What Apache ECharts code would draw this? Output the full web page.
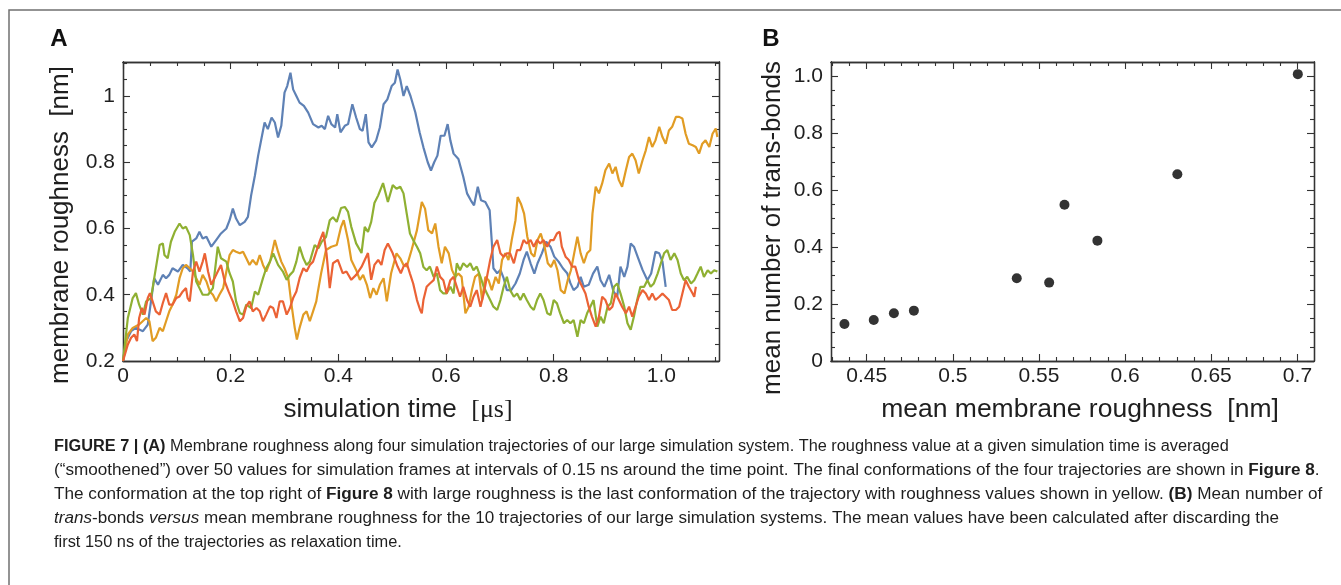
<!DOCTYPE html>
<html>
<head>
<meta charset="utf-8">
<title>Figure 7</title>
<script src="https://cdn.jsdelivr.net/npm/echarts@6/dist/echarts.min.js"></script>
<style>
  html, body { margin: 0; padding: 0; background: #fff; }
  #chart { width: 1341px; height: 585px; }
</style>
</head>
<body>
<div id="chart"></div>
<script>
// ---- panel A: membrane roughness along four trajectories, [time in μs, roughness in nm]
const blueTrace = [[0,0.20],[0.006,0.26],[0.015,0.29],[0.024,0.30],[0.037,0.29],[0.046,0.31],[0.052,0.38],[0.058,0.45],[0.065,0.43],[0.074,0.46],[0.080,0.45],[0.086,0.46],[0.092,0.48],[0.102,0.47],[0.111,0.49],[0.120,0.48],[0.125,0.47],[0.128,0.56],[0.136,0.57],[0.142,0.59],[0.148,0.57],[0.155,0.575],[0.164,0.545],[0.173,0.565],[0.182,0.585],[0.192,0.60],[0.198,0.625],[0.204,0.66],[0.210,0.63],[0.217,0.61],[0.226,0.62],[0.232,0.635],[0.238,0.70],[0.245,0.76],[0.251,0.82],[0.257,0.87],[0.263,0.92],[0.269,0.90],[0.276,0.935],[0.282,0.92],[0.288,0.875],[0.294,0.91],[0.300,1.01],[0.305,1.03],[0.311,1.07],[0.316,1.02],[0.322,1.00],[0.328,0.98],[0.336,0.97],[0.344,0.95],[0.353,0.915],[0.363,0.905],[0.369,0.91],[0.375,0.90],[0.381,0.94],[0.387,0.915],[0.394,0.905],[0.398,0.945],[0.404,0.89],[0.412,0.91],[0.418,0.915],[0.426,0.975],[0.433,0.935],[0.440,0.90],[0.445,0.895],[0.451,0.945],[0.456,0.86],[0.462,0.845],[0.470,0.865],[0.477,0.905],[0.484,0.975],[0.491,0.99],[0.499,1.03],[0.505,1.04],[0.510,1.08],[0.515,1.05],[0.521,1.00],[0.527,1.03],[0.534,1.00],[0.543,0.95],[0.551,0.89],[0.558,0.845],[0.566,0.80],[0.572,0.775],[0.578,0.80],[0.584,0.82],[0.590,0.88],[0.597,0.88],[0.603,0.915],[0.608,0.866],[0.614,0.826],[0.623,0.81],[0.632,0.756],[0.639,0.706],[0.646,0.685],[0.652,0.67],[0.659,0.726],[0.665,0.685],[0.673,0.68],[0.681,0.655],[0.685,0.56],[0.688,0.48],[0.695,0.465],[0.701,0.475],[0.707,0.45],[0.713,0.414],[0.721,0.414],[0.729,0.434],[0.737,0.464],[0.744,0.505],[0.750,0.53],[0.757,0.495],[0.764,0.464],[0.770,0.495],[0.778,0.525],[0.786,0.56],[0.794,0.545],[0.801,0.515],[0.809,0.50],[0.817,0.48],[0.825,0.465],[0.831,0.435],[0.837,0.414],[0.844,0.424],[0.850,0.454],[0.856,0.424],[0.865,0.43],[0.873,0.464],[0.881,0.485],[0.887,0.444],[0.894,0.424],[0.903,0.46],[0.911,0.41],[0.918,0.394],[0.924,0.485],[0.931,0.454],[0.937,0.485],[0.943,0.555],[0.949,0.545],[0.957,0.51],[0.965,0.475],[0.974,0.444],[0.981,0.464],[0.989,0.53],[0.996,0.525],[1.002,0.50],[1.008,0.424]];

const orangeTrace = [[0,0.20],[0.009,0.28],[0.018,0.30],[0.030,0.31],[0.043,0.33],[0.049,0.32],[0.055,0.26],[0.061,0.27],[0.068,0.30],[0.074,0.29],[0.080,0.32],[0.086,0.35],[0.092,0.37],[0.099,0.40],[0.105,0.45],[0.111,0.48],[0.117,0.49],[0.124,0.48],[0.130,0.47],[0.136,0.45],[0.142,0.43],[0.148,0.46],[0.155,0.44],[0.161,0.41],[0.167,0.40],[0.173,0.38],[0.179,0.40],[0.186,0.42],[0.192,0.47],[0.198,0.52],[0.204,0.535],[0.210,0.53],[0.217,0.525],[0.223,0.53],[0.229,0.51],[0.235,0.49],[0.241,0.505],[0.248,0.49],[0.254,0.52],[0.260,0.49],[0.266,0.47],[0.273,0.50],[0.282,0.565],[0.288,0.53],[0.294,0.50],[0.300,0.48],[0.307,0.45],[0.313,0.37],[0.319,0.30],[0.323,0.265],[0.328,0.30],[0.335,0.34],[0.341,0.35],[0.347,0.32],[0.353,0.35],[0.359,0.38],[0.362,0.41],[0.368,0.465],[0.377,0.535],[0.387,0.545],[0.397,0.55],[0.405,0.605],[0.410,0.625],[0.418,0.565],[0.424,0.505],[0.433,0.475],[0.440,0.445],[0.446,0.46],[0.453,0.43],[0.459,0.39],[0.465,0.42],[0.471,0.40],[0.477,0.43],[0.484,0.45],[0.490,0.38],[0.498,0.465],[0.508,0.525],[0.515,0.51],[0.521,0.49],[0.527,0.485],[0.536,0.535],[0.546,0.595],[0.555,0.68],[0.561,0.66],[0.567,0.595],[0.574,0.585],[0.580,0.615],[0.586,0.545],[0.592,0.495],[0.598,0.545],[0.605,0.525],[0.611,0.475],[0.617,0.454],[0.623,0.464],[0.629,0.454],[0.636,0.344],[0.642,0.364],[0.648,0.414],[0.654,0.454],[0.661,0.464],[0.667,0.384],[0.673,0.454],[0.679,0.444],[0.685,0.414],[0.692,0.454],[0.698,0.434],[0.704,0.505],[0.710,0.525],[0.716,0.505],[0.722,0.565],[0.729,0.625],[0.733,0.695],[0.739,0.675],[0.745,0.645],[0.751,0.575],[0.758,0.525],[0.764,0.515],[0.770,0.565],[0.776,0.585],[0.783,0.545],[0.789,0.495],[0.795,0.484],[0.801,0.505],[0.807,0.474],[0.813,0.414],[0.820,0.404],[0.826,0.444],[0.832,0.474],[0.838,0.525],[0.844,0.575],[0.850,0.525],[0.856,0.495],[0.862,0.525],[0.868,0.535],[0.872,0.645],[0.878,0.726],[0.884,0.706],[0.890,0.736],[0.896,0.776],[0.903,0.796],[0.909,0.766],[0.915,0.786],[0.921,0.746],[0.927,0.726],[0.934,0.776],[0.940,0.816],[0.946,0.826],[0.952,0.806],[0.958,0.766],[0.965,0.806],[0.971,0.836],[0.977,0.876],[0.983,0.846],[0.989,0.866],[0.996,0.907],[1.002,0.876],[1.008,0.856],[1.014,0.896],[1.020,0.907],[1.027,0.937],[1.033,0.937],[1.039,0.932],[1.045,0.886],[1.051,0.856],[1.058,0.851],[1.064,0.846],[1.070,0.826],[1.076,0.856],[1.082,0.866],[1.089,0.846],[1.095,0.886],[1.101,0.902],[1.104,0.876]];

const greenTrace = [[0,0.20],[0.009,0.33],[0.018,0.39],[0.024,0.405],[0.030,0.37],[0.037,0.34],[0.043,0.38],[0.052,0.39],[0.058,0.45],[0.068,0.55],[0.074,0.555],[0.077,0.52],[0.083,0.51],[0.089,0.56],[0.096,0.59],[0.105,0.615],[0.111,0.60],[0.117,0.605],[0.124,0.58],[0.130,0.52],[0.136,0.44],[0.142,0.42],[0.148,0.40],[0.158,0.40],[0.167,0.42],[0.176,0.545],[0.182,0.51],[0.192,0.50],[0.198,0.465],[0.204,0.44],[0.210,0.38],[0.217,0.345],[0.223,0.34],[0.229,0.37],[0.238,0.36],[0.245,0.41],[0.251,0.40],[0.260,0.45],[0.266,0.48],[0.273,0.50],[0.279,0.525],[0.288,0.49],[0.297,0.47],[0.304,0.445],[0.310,0.46],[0.316,0.47],[0.322,0.50],[0.328,0.545],[0.335,0.51],[0.341,0.49],[0.347,0.50],[0.356,0.55],[0.363,0.54],[0.369,0.56],[0.377,0.574],[0.384,0.625],[0.390,0.634],[0.397,0.62],[0.405,0.662],[0.412,0.665],[0.418,0.65],[0.424,0.605],[0.433,0.555],[0.443,0.526],[0.449,0.605],[0.455,0.59],[0.461,0.62],[0.467,0.677],[0.474,0.70],[0.483,0.737],[0.492,0.68],[0.501,0.731],[0.508,0.72],[0.515,0.726],[0.521,0.706],[0.527,0.645],[0.533,0.585],[0.539,0.565],[0.546,0.545],[0.552,0.525],[0.558,0.484],[0.564,0.474],[0.570,0.485],[0.577,0.454],[0.583,0.464],[0.589,0.414],[0.595,0.404],[0.601,0.404],[0.608,0.424],[0.614,0.404],[0.620,0.495],[0.626,0.474],[0.632,0.495],[0.639,0.484],[0.645,0.495],[0.651,0.474],[0.657,0.485],[0.664,0.454],[0.670,0.424],[0.676,0.404],[0.682,0.384],[0.688,0.364],[0.695,0.354],[0.701,0.384],[0.707,0.424],[0.713,0.454],[0.719,0.414],[0.726,0.394],[0.732,0.404],[0.738,0.384],[0.744,0.404],[0.750,0.384],[0.757,0.364],[0.763,0.354],[0.769,0.384],[0.775,0.404],[0.781,0.384],[0.788,0.344],[0.794,0.339],[0.800,0.384],[0.806,0.374],[0.812,0.344],[0.819,0.314],[0.825,0.324],[0.831,0.314],[0.837,0.324],[0.844,0.273],[0.850,0.324],[0.856,0.314],[0.862,0.344],[0.868,0.364],[0.874,0.384],[0.881,0.304],[0.887,0.334],[0.893,0.314],[0.900,0.364],[0.906,0.374],[0.912,0.424],[0.918,0.434],[0.924,0.404],[0.931,0.364],[0.937,0.314],[0.943,0.294],[0.949,0.334],[0.955,0.384],[0.961,0.424],[0.968,0.424],[0.974,0.444],[0.980,0.424],[0.986,0.434],[0.993,0.464],[0.999,0.495],[1.005,0.525],[1.011,0.535],[1.017,0.505],[1.024,0.525],[1.030,0.505],[1.036,0.464],[1.042,0.444],[1.048,0.454],[1.055,0.434],[1.061,0.444],[1.067,0.464],[1.073,0.485],[1.079,0.454],[1.086,0.474],[1.092,0.464],[1.098,0.474],[1.104,0.47]];

const redTrace = [[0,0.20],[0.009,0.25],[0.015,0.27],[0.021,0.28],[0.026,0.26],[0.030,0.33],[0.035,0.36],[0.040,0.34],[0.046,0.39],[0.050,0.405],[0.055,0.38],[0.061,0.35],[0.068,0.34],[0.074,0.375],[0.080,0.405],[0.086,0.37],[0.092,0.37],[0.099,0.39],[0.105,0.395],[0.111,0.41],[0.117,0.42],[0.120,0.39],[0.124,0.38],[0.130,0.47],[0.136,0.50],[0.142,0.47],[0.148,0.50],[0.152,0.525],[0.158,0.47],[0.164,0.43],[0.170,0.45],[0.176,0.47],[0.182,0.49],[0.189,0.44],[0.196,0.41],[0.204,0.38],[0.210,0.35],[0.217,0.32],[0.223,0.33],[0.229,0.365],[0.235,0.38],[0.241,0.35],[0.248,0.36],[0.254,0.35],[0.260,0.32],[0.266,0.34],[0.273,0.365],[0.279,0.36],[0.285,0.33],[0.291,0.38],[0.297,0.38],[0.304,0.34],[0.310,0.36],[0.316,0.39],[0.322,0.41],[0.328,0.45],[0.335,0.48],[0.341,0.47],[0.347,0.49],[0.353,0.50],[0.359,0.53],[0.365,0.56],[0.372,0.59],[0.378,0.525],[0.384,0.42],[0.390,0.495],[0.399,0.505],[0.408,0.465],[0.415,0.47],[0.424,0.445],[0.433,0.46],[0.443,0.484],[0.449,0.505],[0.455,0.526],[0.461,0.445],[0.467,0.49],[0.474,0.505],[0.480,0.49],[0.486,0.535],[0.492,0.555],[0.501,0.525],[0.510,0.485],[0.516,0.465],[0.521,0.485],[0.527,0.495],[0.533,0.464],[0.539,0.434],[0.546,0.384],[0.552,0.354],[0.555,0.344],[0.558,0.384],[0.564,0.424],[0.570,0.434],[0.577,0.444],[0.583,0.485],[0.589,0.454],[0.595,0.444],[0.601,0.404],[0.608,0.444],[0.614,0.454],[0.620,0.424],[0.626,0.394],[0.632,0.424],[0.639,0.384],[0.645,0.364],[0.651,0.394],[0.657,0.414],[0.664,0.364],[0.670,0.404],[0.676,0.454],[0.682,0.505],[0.688,0.545],[0.695,0.565],[0.701,0.525],[0.707,0.515],[0.713,0.525],[0.719,0.525],[0.726,0.495],[0.732,0.535],[0.738,0.535],[0.744,0.565],[0.750,0.555],[0.757,0.565],[0.763,0.545],[0.769,0.565],[0.775,0.555],[0.781,0.565],[0.788,0.545],[0.794,0.565],[0.800,0.565],[0.806,0.585],[0.811,0.59],[0.815,0.545],[0.822,0.515],[0.828,0.505],[0.834,0.485],[0.840,0.485],[0.847,0.444],[0.853,0.424],[0.859,0.404],[0.865,0.364],[0.871,0.334],[0.878,0.304],[0.884,0.334],[0.890,0.394],[0.896,0.384],[0.903,0.354],[0.909,0.364],[0.915,0.404],[0.921,0.384],[0.927,0.364],[0.934,0.344],[0.940,0.364],[0.946,0.334],[0.952,0.364],[0.958,0.394],[0.965,0.414],[0.971,0.404],[0.977,0.384],[0.983,0.404],[0.989,0.384],[0.996,0.394],[1.002,0.404],[1.008,0.394],[1.014,0.384],[1.020,0.354],[1.027,0.354],[1.033,0.364],[1.039,0.404],[1.045,0.444],[1.051,0.424],[1.058,0.404],[1.061,0.394],[1.064,0.424]];

// ---- panel B: mean roughness vs mean number of trans-bonds, 10 trajectories
const meanRoughness = [0.4371, 0.4541, 0.4658, 0.4774, 0.5371, 0.5559, 0.5648, 0.5839, 0.6303, 0.7002];
const meanTransBonds = [0.130, 0.144, 0.168, 0.177, 0.291, 0.2755, 0.549, 0.423, 0.6565, 1.008];

// ---- ticks and tick labels
const aXTicks = [0, 0.2, 0.4, 0.6, 0.8, 1.0];
const aXLabels = ['0', '0.2', '0.4', '0.6', '0.8', '1.0'];
const aXMinor = [0.05, 0.1, 0.15, 0.25, 0.3, 0.35, 0.45, 0.5, 0.55, 0.65, 0.7, 0.75, 0.85, 0.9, 0.95, 1.05, 1.1];
const aYTicks = [0.2, 0.4, 0.6, 0.8, 1.0];
const aYLabels = ['0.2', '0.4', '0.6', '0.8', '1'];
const aYMinor = [0.25, 0.3, 0.35, 0.45, 0.5, 0.55, 0.65, 0.7, 0.75, 0.85, 0.9, 0.95, 1.05, 1.1];
const bXTicks = [0.45, 0.5, 0.55, 0.6, 0.65, 0.7];
const bXLabels = ['0.45', '0.5', '0.55', '0.6', '0.65', '0.7'];
const bXMinor = [0.43, 0.44, 0.46, 0.47, 0.48, 0.49, 0.51, 0.52, 0.53, 0.54, 0.56, 0.57, 0.58, 0.59, 0.61, 0.62, 0.63, 0.64, 0.66, 0.67, 0.68, 0.69];
const bYTicks = [0, 0.2, 0.4, 0.6, 0.8, 1.0];
const bYLabels = ['0', '0.2', '0.4', '0.6', '0.8', '1.0'];
const bYMinor = [0.05, 0.1, 0.15, 0.25, 0.3, 0.35, 0.45, 0.5, 0.55, 0.65, 0.7, 0.75, 0.85, 0.9, 0.95, 1.05];

const captionLines = [
  '{b|FIGURE 7 | (A)} Membrane roughness along four simulation trajectories of our large simulation system. The roughness value at a given simulation time is averaged',
  '(\u201csmoothened\u201d) over 50 values for simulation frames at intervals of 0.15 ns around the time point. The final conformations of the four trajectories are shown in {b|Figure 8}.',
  'The conformation at the top right of {b|Figure 8} with large roughness is the last conformation of the trajectory with roughness values shown in yellow. {b|(B)} Mean number of',
  '{i|trans}-bonds {i|versus} mean membrane roughness for the 10 trajectories of our large simulation systems. The mean values have been calculated after discarding the',
  'first 150 ns of the trajectories as relaxation time.'
];
// horizontal stretch of each caption line, the printed lines are set a little wider
const captionStretch = [1.02, 1.07, 1.073, 1.067, 1.024];

const colors = ['#5E81B5', '#E19C24', '#8FB032', '#EB6235'];
const FONT = 'Liberation Sans, Arial, Helvetica, sans-serif';
const ink = '#1e1e1e';
const frameColor = '#333';

const chart = echarts.init(document.getElementById('chart'), null, { renderer: 'canvas' });

// one axis of the frame; every side has a major-tick axis and a minor-tick axis
function frameAxis(grid, position, min, max, ticks, tickLen, labels) {
  const ax = {
    type: 'value', gridIndex: grid, position, min, max,
    axisLine: { show: true, onZero: false, lineStyle: { color: frameColor, width: 1.3 } },
    axisTick: { show: true, inside: true, length: tickLen, customValues: ticks,
      lineStyle: { color: frameColor, width: 1.1 } },
    axisLabel: { show: false },
    splitLine: { show: false },
    axisPointer: { show: false }
  };
  if (labels) {
    ax.axisLabel = {
      show: true, customValues: ticks, margin: position === 'bottom' ? 5 : 8,
      color: ink, fontSize: 21, fontFamily: FONT,
      formatter: (v) => {
        const i = ticks.findIndex(t => Math.abs(t - v) < 1e-9);
        return i >= 0 ? labels[i] : '';
      }
    };
  }
  return ax;
}

const aX = [0, 1.107], aY = [0.2, 1.1026];
const bX = [0.4293, 0.7096], bY = [0, 1.0507];

const xAxes = [
  frameAxis(0, 'bottom', aX[0], aX[1], aXTicks, 7, aXLabels),
  frameAxis(0, 'bottom', aX[0], aX[1], aXMinor, 4),
  frameAxis(0, 'top', aX[0], aX[1], aXTicks, 7),
  frameAxis(0, 'top', aX[0], aX[1], aXMinor, 4),
  frameAxis(1, 'bottom', bX[0], bX[1], bXTicks, 7, bXLabels),
  frameAxis(1, 'bottom', bX[0], bX[1], bXMinor, 4),
  frameAxis(1, 'top', bX[0], bX[1], bXTicks, 7),
  frameAxis(1, 'top', bX[0], bX[1], bXMinor, 4)
];
const yAxes = [
  frameAxis(0, 'left', aY[0], aY[1], aYTicks, 7, aYLabels),
  frameAxis(0, 'left', aY[0], aY[1], aYMinor, 4),
  frameAxis(0, 'right', aY[0], aY[1], aYTicks, 7),
  frameAxis(0, 'right', aY[0], aY[1], aYMinor, 4),
  frameAxis(1, 'left', bY[0], bY[1], bYTicks, 7, bYLabels),
  frameAxis(1, 'left', bY[0], bY[1], bYMinor, 4),
  frameAxis(1, 'right', bY[0], bY[1], bYTicks, 7),
  frameAxis(1, 'right', bY[0], bY[1], bYMinor, 4)
];

const traces = [blueTrace, orangeTrace, greenTrace, redTrace];
const lineSeries = traces.map((d, i) => ({
  type: 'line', xAxisIndex: 0, yAxisIndex: 0, data: d,
  symbol: 'none', smooth: false, clip: true,
  lineStyle: { color: colors[i], width: 2.2 },
  emphasis: { disabled: true }
}));

const captionRich = {
  b: { fontSize: 16, fontFamily: FONT, fontWeight: 'bold', fill: ink },
  i: { fontSize: 16, fontFamily: FONT, fontStyle: 'italic', fill: ink }
};

const graphics = [
  { type: 'rect', shape: { x: 9, y: 10, width: 1400, height: 700 }, silent: true,
    style: { fill: 'none', stroke: '#707070', lineWidth: 1.5 } },
  { type: 'text', x: 59, y: 39, style: { text: 'A', fontSize: 24, fontWeight: 'bold', fontFamily: FONT, fill: '#111', align: 'center', verticalAlign: 'middle' } },
  { type: 'text', x: 771, y: 39, style: { text: 'B', fontSize: 24, fontWeight: 'bold', fontFamily: FONT, fill: '#111', align: 'center', verticalAlign: 'middle' } },
  { type: 'text', x: 61, y: 225, rotation: Math.PI / 2,
    style: { text: 'membrane roughness  [nm]', fontSize: 26, fontFamily: FONT, fill: ink, align: 'center', verticalAlign: 'middle' } },
  { type: 'text', x: 398, y: 410,
    style: { text: 'simulation time  {s|[\u03bcs]}', fontSize: 26, fontFamily: FONT, fill: ink, align: 'center', verticalAlign: 'middle',
      rich: { s: { fontSize: 26, fontFamily: 'Liberation Serif, Times New Roman, serif', fill: ink } } } },
  { type: 'text', x: 773, y: 228, rotation: Math.PI / 2,
    style: { text: 'mean number of trans-bonds', fontSize: 26, fontFamily: FONT, fill: ink, align: 'center', verticalAlign: 'middle' } },
  { type: 'text', x: 1080, y: 410,
    style: { text: 'mean membrane roughness  [nm]', fontSize: 26.5, fontFamily: FONT, fill: ink, align: 'center', verticalAlign: 'middle' } }
].concat(captionLines.map((line, i) => ({
  type: 'text', x: 54, y: 447 + i * 23.8, scaleX: captionStretch[i],
  style: { text: line, fontSize: 16, fontFamily: FONT, fill: ink, align: 'left', verticalAlign: 'middle', rich: captionRich }
})));

chart.setOption({
  animation: false,
  backgroundColor: '#fff',
  grid: [
    { left: 123, top: 62, width: 596, height: 299, containLabel: false, outerBoundsMode: 'none' },
    { left: 831, top: 62, width: 483, height: 299, containLabel: false, outerBoundsMode: 'none' }
  ],
  xAxis: xAxes,
  yAxis: yAxes,
  series: [
    ...lineSeries,
    {
      type: 'scatter', xAxisIndex: 4, yAxisIndex: 4,
      data: meanRoughness.map((x, i) => [x, meanTransBonds[i]]),
      symbol: 'circle', symbolSize: 10,
      itemStyle: { color: '#000' },
      emphasis: { disabled: true }
    }
  ],
  graphic: graphics
});
</script>
</body>
</html>
